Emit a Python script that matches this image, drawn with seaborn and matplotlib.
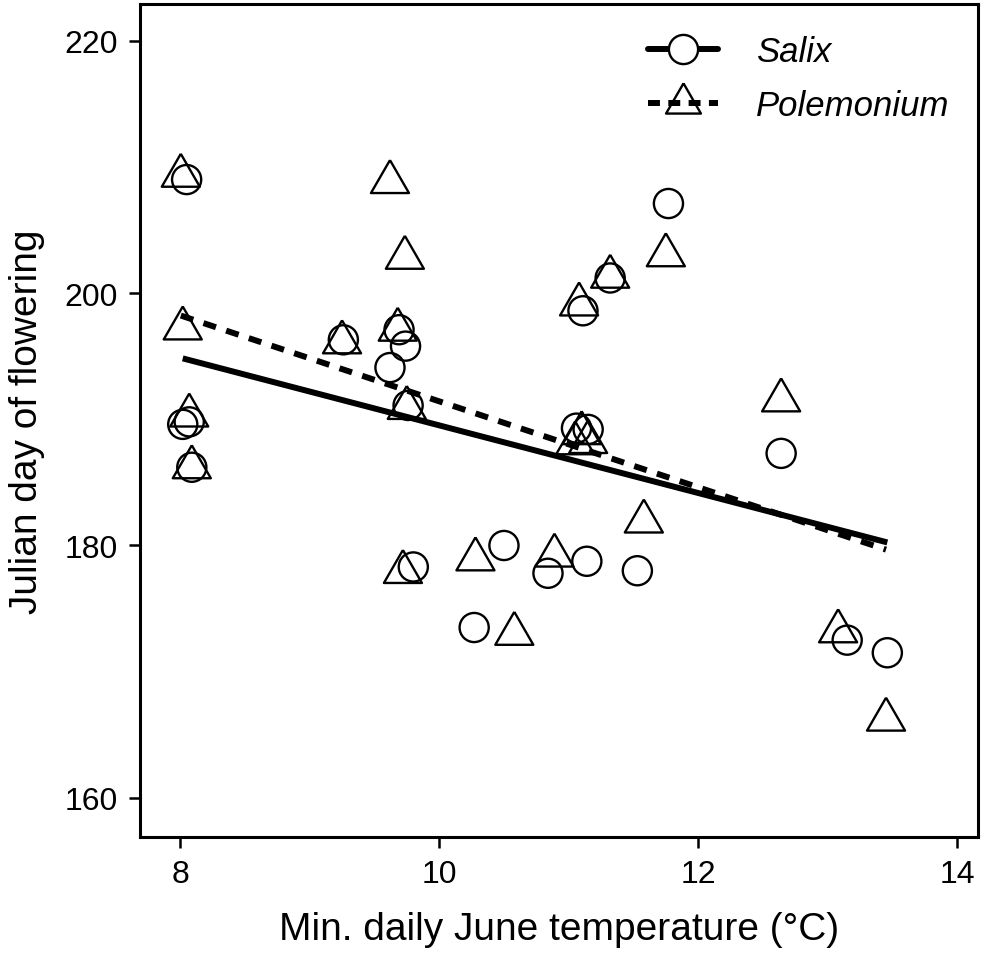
import numpy as np
import pandas as pd
import matplotlib
matplotlib.use("Agg")
import matplotlib.pyplot as plt
from matplotlib.lines import Line2D
import seaborn as sns

# Salix (circles)
salix_temp = [8.05, 8.02, 8.07, 8.09, 9.26, 9.69, 9.74, 9.62, 9.76, 11.77, 11.32, 11.11,
              11.06, 11.15, 9.80, 10.50, 10.84, 11.14, 11.53, 10.27, 12.64, 13.15, 13.46]
salix_day = [209.0, 189.6, 189.8, 186.2, 196.3, 197.1, 195.8, 194.1, 191.1, 207.1, 201.2, 198.6,
             189.3, 189.2, 178.3, 180.0, 177.8, 178.75, 178.0, 173.5, 187.3, 172.5, 171.5]

# Polemonium (triangles)
polem_temp = [8.005, 9.62, 9.735, 8.02, 9.25, 9.68, 9.75, 8.07, 8.09, 11.75, 11.32, 11.08,
              11.10, 11.05, 11.15, 9.72, 10.28, 10.89, 11.58, 10.58, 12.64, 13.08, 13.45]
polem_day = [209.3, 208.8, 202.8, 197.2, 196.1, 197.1, 190.9, 190.3, 186.2, 203.0, 201.3, 199.1,
             188.9, 188.1, 188.2, 177.9, 178.9, 179.2, 181.9, 173.0, 191.5, 173.2, 166.2]

salix = pd.DataFrame({'temp': salix_temp, 'day': salix_day})
polem = pd.DataFrame({'temp': polem_temp, 'day': polem_day})

sns.set_style("white")
plt.rcParams['font.family'] = ['Liberation Sans', 'DejaVu Sans']
plt.rcParams['text.color'] = 'black'
plt.rcParams['axes.labelcolor'] = 'black'
plt.rcParams['xtick.color'] = 'black'
plt.rcParams['ytick.color'] = 'black'

# equilateral triangle centred on its centroid (like R pch=2)
tri = [(0, 1.155), (-1, -0.577), (1, -0.577), (0, 1.155)]

fig = plt.figure(figsize=(10, 9.54), dpi=100)
ax = fig.add_axes([0.14, 0.1216, 0.838, 0.873])

sns.regplot(x='temp', y='day', data=salix, ci=None, ax=ax, color='black',
            marker='o', scatter_kws={'s': 440, 'facecolors': 'none', 'edgecolors': 'black',
                                     'linewidths': 1.7, 'alpha': 1},
            line_kws={'lw': 4.3, 'solid_capstyle': 'butt'})
sns.regplot(x='temp', y='day', data=polem, ci=None, ax=ax, color='black',
            marker=tri, scatter_kws={'s': 1000, 'facecolors': 'none', 'edgecolors': 'black',
                                     'linewidths': 1.7, 'alpha': 1},
            line_kws={'lw': 4.3, 'ls': (0, (2.2, 1.8)), 'dash_capstyle': 'butt'})

ax.set_xlim(7.69, 14.16)
ax.set_ylim(156.9, 222.9)
ax.set_xticks([8, 10, 12, 14])
ax.set_yticks([160, 180, 200, 220])
ax.set_xlabel("Min. daily June temperature (\u00b0C)", fontsize=28, labelpad=16)
ax.set_ylabel("Julian day of flowering", fontsize=28, labelpad=14)
ax.tick_params(axis='both', labelsize=23, direction='out', length=8, width=1.8, pad=8,
               bottom=True, left=True)
for s in ax.spines.values():
    s.set_linewidth(2.2)
    s.set_color('black')

handles = [
    Line2D([], [], color='black', lw=4.3, marker='o', markersize=21, markerfacecolor='white',
           markeredgecolor='black', markeredgewidth=1.7),
    Line2D([], [], color='black', lw=4.3, ls=(0, (2.0, 1.4)), marker=tri, markersize=29,
           markerfacecolor='none', markeredgecolor='black', markeredgewidth=1.7),
]
leg = ax.legend(handles, ['Salix', 'Polemonium'], loc='upper right', frameon=False,
                prop={'style': 'italic', 'size': 25}, handlelength=2.0, borderaxespad=0.3,
                labelspacing=0.6, handletextpad=1.1, bbox_to_anchor=(0.995, 0.992))

fig.savefig('out.png', dpi=100)
